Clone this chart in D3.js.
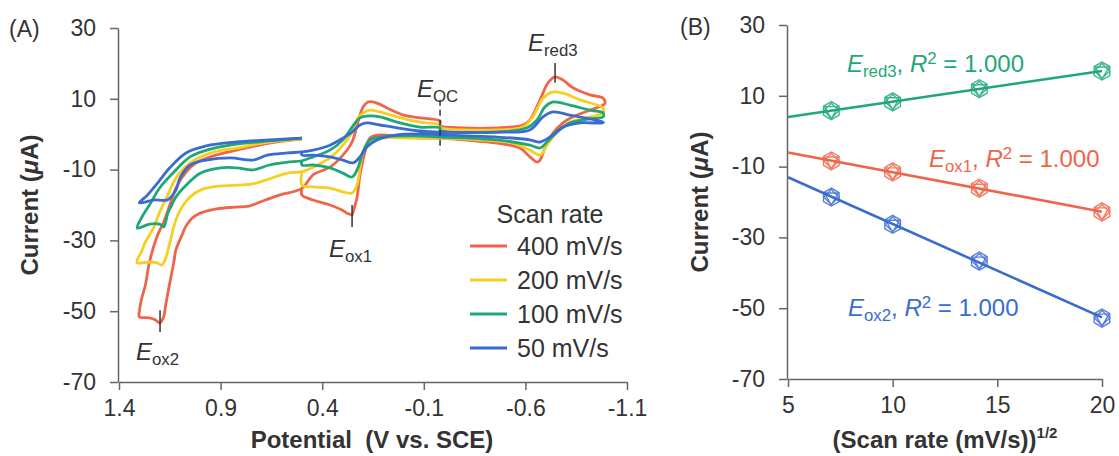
<!DOCTYPE html>
<html>
<head>
<meta charset="utf-8">
<script src="https://cdn.jsdelivr.net/npm/d3@7"></script>
<style>
  body { margin: 0; background: #fff; }
  svg { display: block; }
</style>
</head>
<body>
<svg id="chart" width="1119" height="456"></svg>
<script>
const svg = d3.select("#chart");
const fontFamily = "'Liberation Sans', Arial, sans-serif";
const ink = "#333";

// scan rates (mV/s) and colours
const scanRates = [400, 200, 100, 50];
const rateColors = ["#f0654a", "#f5cf22", "#1fa877", "#3a6bd0"];

// CV curves, [potential V, current uA]
const cv400 = [
  [0.50,-1.4],[0.66,-2.5],[0.82,-4.5],[0.94,-6.2],[1.02,-8.1],[1.07,-10.7],[1.12,-15.2],[1.15,-20.0],[1.18,-24.8],[1.21,-28.5],[1.25,-36.1],[1.27,-42.6],[1.29,-46.8],[1.30,-50.2],[1.30,-51.6],
  [1.25,-51.9],[1.22,-52.5],[1.20,-53.3],
  [1.18,-51.6],[1.17,-48.2],[1.15,-42.0],[1.13,-36.1],[1.12,-32.7],[1.09,-28.5],[1.07,-25.9],[1.04,-23.7],[1.00,-22.3],[0.92,-21.1],[0.83,-20.6],[0.76,-20.3],[0.68,-18.6],[0.61,-17.2],[0.50,-15.3],
  [0.445,-11.5],[0.362,-9.3],[0.298,-5.9],[0.253,-2.2],[0.224,3.4],[0.199,7.7],[0.175,9.1],[0.13,8.8],[0.081,7.4],[0.0,5.4],[-0.081,4.6],[-0.18,3.7],
  [-0.18,2.5],[-0.293,1.8],[-0.46,1.8],[-0.588,2.6],[-0.622,4.0],[-0.672,9.7],[-0.711,14.5],[-0.746,16.2],[-0.785,15.3],[-0.834,13.1],[-0.918,11.1],[-0.982,10.2],[-0.992,8.8],
  [-0.982,8.2],[-0.918,6.8],[-0.834,4.9],[-0.785,3.2],[-0.736,0.3],[-0.696,-3.9],[-0.672,-7.3],[-0.657,-7.9],[-0.622,-6.4],[-0.573,-3.9],[-0.46,-2.5],[-0.293,-1.6],[-0.18,-1.1],
  [-0.081,-1.1],[0.032,-0.5],[0.116,-0.2],[0.165,-1.1],[0.189,-5.0],[0.214,-11.5],[0.229,-18.0],[0.248,-22.0],[0.253,-22.8],[0.278,-22.3],[0.303,-21.4],[0.362,-20.0],[0.445,-18.6],[0.50,-17.2],[0.50,-15.5]
];
const cv200 = [
  [0.50,-1.4],[0.66,-2.2],[0.82,-3.9],[0.95,-5.3],[1.05,-8.1],[1.12,-12.4],[1.16,-17.2],[1.20,-22.0],[1.23,-26.5],[1.27,-30.4],[1.29,-33.3],[1.31,-35.5],[1.31,-36.4],
  [1.25,-36.1],[1.21,-36.4],[1.19,-37.0],
  [1.17,-35.0],[1.15,-30.7],[1.12,-24.2],[1.09,-20.6],[1.05,-17.7],[1.00,-15.8],[0.94,-14.9],[0.82,-14.4],[0.74,-14.0],[0.66,-12.6],[0.57,-11.0],[0.50,-10.6],
  [0.445,-9.3],[0.362,-6.7],[0.298,-3.1],[0.253,0.6],[0.224,4.6],[0.189,6.3],[0.165,6.8],[0.116,6.3],[0.032,4.9],[-0.081,3.4],[-0.18,2.6],
  [-0.18,2.0],[-0.46,1.2],[-0.588,2.0],[-0.637,4.9],[-0.687,10.2],[-0.731,11.9],[-0.785,11.6],[-0.869,9.7],[-0.982,7.4],[-0.982,6.0],
  [-0.918,4.9],[-0.819,3.4],[-0.756,0.6],[-0.706,-3.1],[-0.672,-5.9],[-0.622,-4.5],[-0.539,-2.5],[-0.377,-1.6],[-0.18,-1.1],
  [-0.047,-1.1],[0.116,-1.1],[0.175,-2.2],[0.199,-5.0],[0.214,-9.5],[0.229,-14.4],[0.253,-16.6],[0.298,-16.3],[0.362,-15.2],[0.445,-14.9],[0.50,-14.4],[0.50,-11.0]
];
const cv100 = [
  [0.50,-1.1],[0.66,-1.9],[0.82,-2.8],[0.95,-4.2],[1.05,-6.4],[1.13,-10.7],[1.20,-15.2],[1.25,-20.0],[1.29,-23.7],[1.31,-26.5],
  [1.25,-25.4],[1.20,-25.4],[1.18,-26.2],
  [1.16,-22.3],[1.14,-20.0],[1.12,-17.7],[1.07,-14.4],[1.00,-11.0],[0.90,-9.5],[0.82,-9.5],[0.74,-10.1],[0.66,-8.7],[0.57,-7.9],[0.50,-7.5],
  [0.445,-6.4],[0.362,-4.5],[0.298,-1.6],[0.253,2.0],[0.214,4.6],[0.18,5.1],[0.116,4.9],[0.032,3.4],[-0.081,2.0],[-0.18,1.8],
  [-0.18,1.2],[-0.46,0.6],[-0.608,1.8],[-0.657,4.0],[-0.696,7.7],[-0.736,9.1],[-0.819,8.2],[-0.918,6.8],[-0.982,6.0],[-0.982,4.9],
  [-0.918,4.3],[-0.819,3.2],[-0.756,0.6],[-0.706,-2.2],[-0.672,-3.9],[-0.622,-3.1],[-0.46,-1.6],[-0.18,-0.8],
  [-0.047,-0.5],[0.116,-0.8],[0.165,-1.6],[0.199,-5.0],[0.224,-9.5],[0.253,-12.1],[0.298,-11.0],[0.362,-9.5],[0.445,-8.7],[0.50,-8.7],[0.50,-7.6]
];
const cv50 = [
  [0.50,-1.1],[0.66,-1.6],[0.82,-2.2],[0.97,-3.3],[1.07,-5.3],[1.15,-9.5],[1.21,-13.8],[1.26,-17.2],[1.30,-19.4],
  [1.23,-18.6],[1.16,-18.5],
  [1.12,-15.8],[1.10,-12.4],[1.05,-8.7],[0.97,-7.3],[0.85,-6.7],[0.74,-7.3],[0.67,-5.9],[0.57,-5.3],[0.50,-5.0],
  [0.445,-4.5],[0.362,-3.1],[0.298,-1.1],[0.253,0.6],[0.214,2.6],[0.18,3.2],[0.116,2.6],[0.032,1.8],[-0.081,0.9],[-0.18,0.6],
  [-0.46,0.6],[-0.622,1.2],[-0.687,4.9],[-0.736,6.3],[-0.819,5.4],[-0.918,4.3],[-0.982,3.4],[-0.982,3.2],[-0.869,3.2],[-0.785,2.0],[-0.721,-0.8],[-0.672,-2.2],[-0.622,-1.6],[-0.46,-0.8],[-0.18,-0.2],
  [-0.081,0.1],[0.032,-0.2],[0.13,-1.6],[0.18,-3.6],[0.214,-6.4],[0.248,-8.1],[0.298,-7.3],[0.362,-6.4],[0.445,-5.9],[0.50,-5.9],[0.50,-5.2]
];
const cvCurves = [cv400, cv200, cv100, cv50];

// peak markers in panel A: [potential, current low, current high]
const peakTicks = [
  {name: "red3", E: -0.746, lo: 14.5, hi: 20.1},
  {name: "ox1",  E: 0.253,  lo: -26.2, hi: -20.0},
  {name: "ox2",  E: 1.198,  lo: -55.9, hi: -49.7}
];
const ocMark = {E: -0.18, lo: -4.5, hi: 9.7};

// panel B: sqrt(scan rate) vs peak current
const sqrtRate = [7.07, 10, 14.14, 20];
const ipRed3 = [5.8, 8.3, 12.0, 17.0];
const ipOx1 = [-8.4, -11.5, -16.1, -22.8];
const ipOx2 = [-18.6, -26.3, -36.7, -52.8];

// ticks
const potTicks = [1.4, 0.9, 0.4, -0.1, -0.6, -1.1];
const curTicks = [30, 10, -10, -30, -50, -70];
const rootTicks = [5, 10, 15, 20];

svg.attr("font-family", fontFamily);

// ---------- panel A ----------
const xA = d3.scaleLinear().domain([1.4, -1.1]).range([119, 627]);
const yA = d3.scaleLinear().domain([-70, 30]).range([382, 28]);

function styleAxis(g) {
  g.select(".domain").attr("stroke", "#666").attr("stroke-width", 1.5);
  g.selectAll(".tick line").attr("stroke", "#666").attr("stroke-width", 1.5);
  g.selectAll(".tick text").attr("fill", ink).attr("font-size", 23).attr("font-family", fontFamily);
}

svg.append("g")
  .attr("transform", `translate(0,${yA(-70)})`)
  .call(d3.axisBottom(xA).tickValues(potTicks).tickFormat(d => String(d)).tickSize(8).tickSizeOuter(0).tickPadding(10))
  .call(styleAxis);

svg.append("g")
  .attr("transform", `translate(${xA(1.4) - 1},0)`)
  .call(d3.axisLeft(yA).tickValues(curTicks).tickFormat(d => String(d)).tickSize(8).tickSizeOuter(0).tickPadding(14))
  .call(styleAxis);

const lineA = d3.line()
  .x(d => xA(d[0])).y(d => yA(d[1]))
  .curve(d3.curveCatmullRom.alpha(0.5));

cvCurves.forEach((c, i) => {
  svg.append("path")
    .attr("d", lineA(c))
    .attr("fill", "none")
    .attr("stroke", rateColors[i])
    .attr("stroke-width", 2.8)
    .attr("stroke-linejoin", "round");
});

// peak ticks
peakTicks.forEach(p => {
  svg.append("line")
    .attr("x1", xA(p.E)).attr("x2", xA(p.E))
    .attr("y1", yA(p.hi)).attr("y2", yA(p.lo))
    .attr("stroke", ink).attr("stroke-width", 1.5);
});
svg.append("line")
  .attr("x1", xA(ocMark.E)).attr("x2", xA(ocMark.E))
  .attr("y1", yA(ocMark.hi)).attr("y2", yA(ocMark.lo))
  .attr("stroke", ink).attr("stroke-width", 1.5)
  .attr("stroke-dasharray", "6,4");

// E labels with subscripts
function eLabel(g, x, y, sub, color, size, rest) {
  const t = g.append("text").attr("x", x).attr("y", y).attr("fill", color).attr("font-size", size);
  t.append("tspan").attr("font-style", "italic").text("E");
  t.append("tspan").attr("font-size", size * 0.7).attr("dy", 5).text(sub);
  if (rest) {
    t.append("tspan").attr("dy", -5).text(", ");
    t.append("tspan").attr("font-style", "italic").text("R");
    t.append("tspan").attr("font-size", size * 0.7).attr("dy", -8).text("2");
    t.append("tspan").attr("dy", 8).text(" = 1.000");
  }
  return t;
}
eLabel(svg, 528, 51, "red3", ink, 24);
eLabel(svg, 417, 97, "OC", ink, 24);
eLabel(svg, 329, 257, "ox1", ink, 24);
eLabel(svg, 136, 360, "ox2", ink, 24);

// legend
svg.append("text").attr("x", 550).attr("y", 223).attr("text-anchor", "middle")
  .attr("font-size", 25).attr("fill", ink).text("Scan rate");
const legY = d3.scalePoint().domain(scanRates).range([246, 348]);
scanRates.forEach((r, i) => {
  svg.append("line")
    .attr("x1", 470).attr("x2", 507)
    .attr("y1", legY(r)).attr("y2", legY(r))
    .attr("stroke", rateColors[i]).attr("stroke-width", 3);
  svg.append("text")
    .attr("x", 517).attr("y", legY(r)).attr("dy", "0.36em")
    .attr("font-size", 25).attr("fill", ink)
    .text(`${r} mV/s`);
});

// axis titles
svg.append("text").attr("x", 372).attr("y", 448).attr("text-anchor", "middle")
  .attr("font-size", 24).attr("font-weight", "bold").attr("fill", ink)
  .attr("xml:space", "preserve")
  .text("Potential  (V vs. SCE)");

function yTitle(x, y) {
  const t = svg.append("text")
    .attr("transform", `translate(${x},${y}) rotate(-90)`)
    .attr("text-anchor", "middle")
    .attr("font-size", 24).attr("font-weight", "bold").attr("fill", ink);
  t.append("tspan").text("Current (");
  t.append("tspan").attr("font-style", "italic").text("μ");
  t.append("tspan").text("A)");
}
yTitle(38, 205);

svg.append("text").attr("x", 9).attr("y", 37).attr("font-size", 23).attr("fill", ink).text("(A)");

// ---------- panel B ----------
const xB = d3.scaleLinear().domain([5, 20]).range([788, 1102]);
const yB = d3.scaleLinear().domain([-70, 30]).range([379, 25]);

svg.append("g")
  .attr("transform", `translate(0,${yB(-70)})`)
  .call(d3.axisBottom(xB).tickValues(rootTicks).tickFormat(d => String(d)).tickSize(8).tickSizeOuter(0).tickPadding(10))
  .call(styleAxis);

svg.append("g")
  .attr("transform", `translate(${xB(5) - 1},0)`)
  .call(d3.axisLeft(yB).tickValues(curTicks).tickFormat(d => String(d)).tickSize(8).tickSizeOuter(0).tickPadding(14))
  .call(styleAxis);

const seriesB = [
  {vals: ipRed3, color: rateColors[2], sub: "red3", lx: 847, ly: 72},
  {vals: ipOx1, color: rateColors[0], sub: "ox1", lx: 929, ly: 167},
  {vals: ipOx2, color: rateColors[3], sub: "ox2", lx: 848, ly: 316}
];

// polygon marker outline around a centre
function poly(cx, cy, r, n, rot) {
  return d3.range(n).map(k => {
    const a = rot + k * 2 * Math.PI / n;
    return [cx + r * Math.cos(a), cy + r * Math.sin(a)];
  });
}
const closed = d3.line().curve(d3.curveLinearClosed);

seriesB.forEach(s => {
  // least squares fit
  const mx = d3.mean(sqrtRate), my = d3.mean(s.vals);
  const slope = d3.sum(sqrtRate, (x, i) => (x - mx) * (s.vals[i] - my)) / d3.sum(sqrtRate, x => (x - mx) ** 2);
  const icpt = my - slope * mx;
  svg.append("line")
    .attr("x1", xB(5)).attr("y1", yB(icpt + slope * 5))
    .attr("x2", xB(20)).attr("y2", yB(icpt + slope * 20))
    .attr("stroke", s.color).attr("stroke-width", 2.6);

  sqrtRate.forEach((x, i) => {
    const cx = xB(x), cy = yB(s.vals[i]);
    const g = svg.append("g").attr("fill", "none").attr("stroke", s.color)
      .attr("stroke-width", 1.4).attr("opacity", 0.85);
    g.append("path").attr("d", closed(poly(cx, cy, 9, 6, Math.PI / 6)));
    g.append("path").attr("d", closed(poly(cx, cy, 8, 3, Math.PI / 2)));
    g.append("path").attr("d", closed(poly(cx, cy, 7.5, 4, 0)));
  });

  eLabel(svg, s.lx, s.ly, s.sub, s.color, 24, true);
});

// B axis titles
const xt = svg.append("text").attr("x", 945).attr("y", 448).attr("text-anchor", "middle")
  .attr("font-size", 24).attr("font-weight", "bold").attr("fill", ink);
xt.append("tspan").text("(Scan rate (mV/s))");
xt.append("tspan").attr("font-size", 15).attr("dy", -10).text("1/2");

yTitle(708, 202);

svg.append("text").attr("x", 680).attr("y", 35).attr("font-size", 23).attr("fill", ink).text("(B)");
</script>
</body>
</html>
